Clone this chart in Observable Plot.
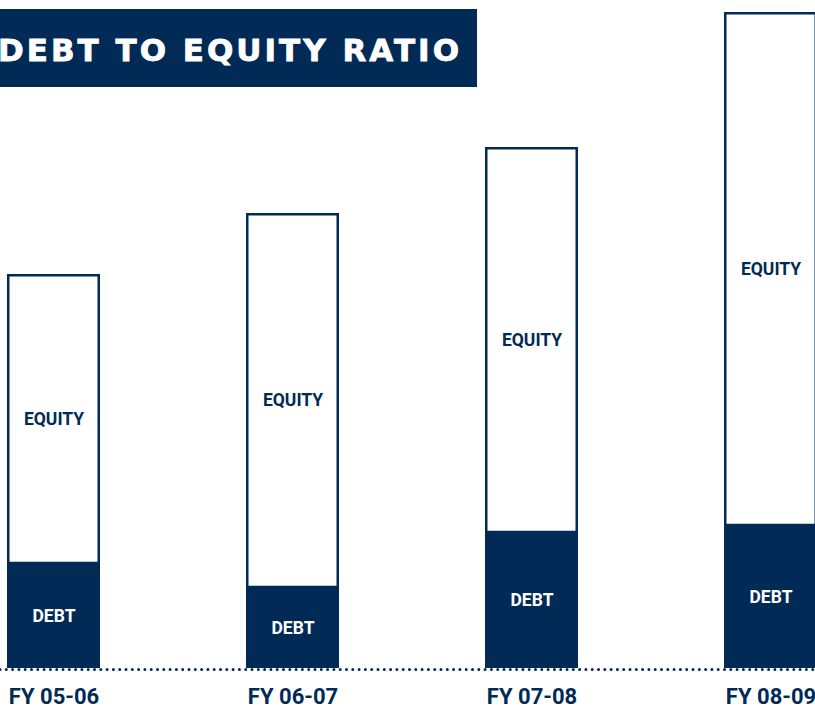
<!DOCTYPE html>
<html>
<head>
<meta charset="utf-8">
<script src="https://cdn.jsdelivr.net/npm/d3@7"></script>
<script src="https://cdn.jsdelivr.net/npm/@observablehq/plot@0.6"></script>
<style>
  html, body { margin: 0; padding: 0; background: #fff; }
  #wrap { position: relative; width: 815px; height: 709px; overflow: hidden; }
  #title { position: absolute; left: 0; top: 9px; }
</style>
</head>
<body>
<div id="wrap">
  <div id="chart"></div>
  <svg id="title" width="477" height="78">
    <rect x="0" y="0" width="477" height="78" fill="#012a56"></rect>
    <text x="-2" y="52" fill="#fff" font-family="'DejaVu Sans', sans-serif" font-weight="bold" font-size="31" stroke="#fff" stroke-width="0.8" textLength="461" lengthAdjust="spacing">DEBT TO EQUITY RATIO</text>
  </svg>
</div>
<script>
const years  = ["FY 05-06", "FY 06-07", "FY 07-08", "FY 08-09"];
const debt   = [105, 81, 136, 143];
const equity = [289, 374, 385, 513];

const navy = "#012a56";
const rows = years.map((year, i) => ({year, debt: debt[i], equity: equity[i], total: debt[i] + equity[i]}));

const chart = Plot.plot({
  width: 815,
  height: 709,
  marginTop: 0, marginRight: 0, marginBottom: 0, marginLeft: 0,
  style: {fontFamily: "Roboto, 'DejaVu Sans', sans-serif", background: "transparent"},
  x: {type: "band", domain: years, range: [7, 817], paddingInner: 0.611, paddingOuter: 0, axis: null},
  y: {domain: [0, 668], range: [668, 0], axis: null},
  marks: [
    Plot.rectY(rows, {x: "year", y1: "debt", y2: "total", fill: "white", stroke: navy, strokeWidth: 2.5, insetLeft: 1.25, insetRight: 1.25, insetTop: 1.25}),
    Plot.rectY(rows, {x: "year", y1: 0, y2: "debt", fill: navy}),
    Plot.ruleY([0], {stroke: navy, strokeWidth: 3, strokeDasharray: "0,6.3", strokeLinecap: "round", dy: 1}),
    Plot.text(rows, {x: "year", y: d => d.debt / 2, text: () => "DEBT", fill: "white", fontSize: 17.5, fontWeight: "bold"}),
    Plot.text(rows, {x: "year", y: d => d.debt + d.equity / 2, text: () => "EQUITY", fill: navy, fontSize: 17.5, fontWeight: "bold"}),
    Plot.text(rows, {x: "year", y: 0, dy: 28, text: "year", fill: navy, fontSize: 22, fontWeight: "bold"})
  ]
});
document.getElementById("chart").appendChild(chart);
</script>
</body>
</html>
